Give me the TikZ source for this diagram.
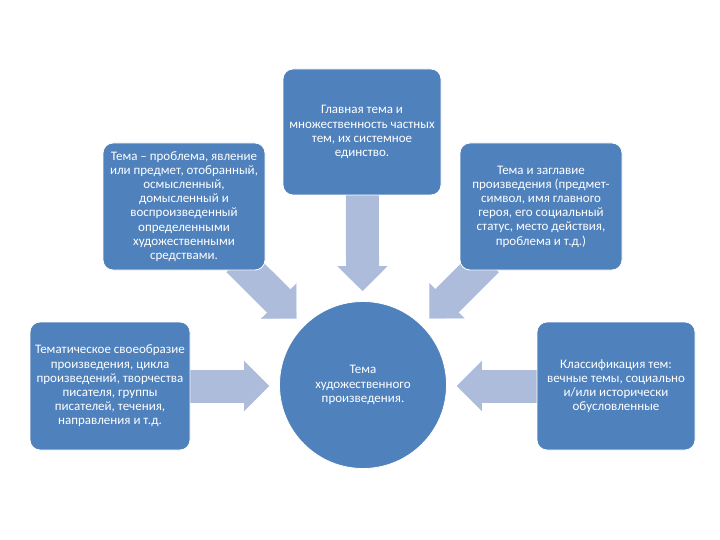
\documentclass[tikz,border=0pt]{standalone}
\usepackage{fontspec}
\setmainfont{Carlito}
\usetikzlibrary{arrows.meta,backgrounds}
\definecolor{boxblue}{HTML}{4F81BD}
\definecolor{arrblue}{HTML}{AEBCDC}

\begin{document}
\begin{tikzpicture}[
  x=1pt, y=-1pt,
  font=\fontsize{13}{14.2}\selectfont,
  card/.style={draw=white, line width=0.8pt, fill=boxblue, text=white,
               rounded corners=10pt, align=center, inner sep=1pt},
  hub/.style={card, circle, minimum size=167pt},
  flow/.style={draw=arrblue, line width=33pt, shorten >=34.5pt, shorten <=-14pt},
  flowtip/.style={draw=arrblue, line width=0.1pt,
                  -{Triangle[width=50pt,length=25pt]}, shorten >=10pt},
]
\useasboundingbox (0,0) rectangle (720,540);
% outer boxes
\node[card, minimum width=162pt, minimum height=127pt] (def) at (184,206.5)
  {Тема -- проблема, явление\\или предмет, отобранный,\\осмысленный,\\домысленный и\\воспроизведенный\\определенными\\художественными\\средствами.};
\node[card, minimum width=158pt, minimum height=126pt] (main) at (362,132)
  {Главная тема и\\множественность частных\\тем, их системное\\единство.};
\node[card, minimum width=162pt, minimum height=127pt] (title) at (541,206.5)
  {Тема и заглавие\\произведения (предмет-\\символ, имя главного\\героя, его социальный\\статус, место действия,\\проблема и т.д.)};
\node[card, minimum width=160pt, minimum height=128pt] (kind) at (110,386)
  {Тематическое своеобразие\\произведения, цикла\\произведений, творчества\\писателя, группы\\писателей, течения,\\направления и т.д.};
\node[card, minimum width=158pt, minimum height=128pt] (klass) at (616,386)
  {Классификация тем:\\вечные темы, социально\\и/или исторически\\обусловленные};
% centre
\node[hub] (hub) at (363,385) {Тема\\художественного\\произведения.};
% block arrows behind the boxes
\begin{scope}[on background layer]
  \draw[flow] (def) -- (hub);
  \draw[flowtip] (def) -- (hub);
  \draw[flow] (main) -- (hub);
  \draw[flowtip] (main) -- (hub);
  \draw[flow] (title) -- (hub);
  \draw[flowtip] (title) -- (hub);
  \draw[flow] (kind.east) -- (hub.west |- kind.east);
  \draw[flowtip] (kind.east) -- (hub.west |- kind.east);
  \draw[flow] (klass.west) -- (hub.east |- klass.west);
  \draw[flowtip] (klass.west) -- (hub.east |- klass.west);
\end{scope}
\end{tikzpicture}
\end{document}
